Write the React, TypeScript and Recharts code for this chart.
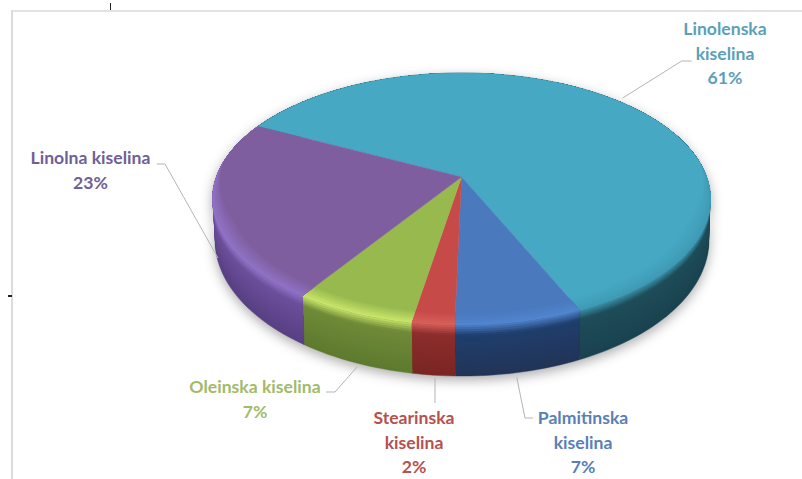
import React from "react";
import { PieChart, Pie } from "recharts";

const categories = ["Linolenska kiselina", "Palmitinska kiselina", "Stearinska kiselina", "Oleinska kiselina", "Linolna kiselina"];
const values = [61, 7, 2.35, 6.65, 23];
const percentLabels = ["61%", "7%", "2%", "7%", "23%"];
const rows = categories.map((name, i) => ({ name, value: values[i] }));

const faceColors = ["#46a8c3", "#4a79bd", "#c64b48", "#97b94e", "#7f5e9f"];
const glowColors = ["#3f9ab4", "#5186d0", "#d8625c", "#cde86c", "#9174c9"];
const wallColors = ["#1e4c58", "#1f3e6c", "#8c2d2b", "#6f8a38", "#6c4f9b"];
const wallDarkColors = ["#1a4350", "#223558", "#7a2624", "#5e7a2e", "#584083"];
const textColors = ["#5c9fb9", "#5a7fb6", "#b4514f", "#a1bb6a", "#6f6097"];

const nameLines = [
  ["Linolenska", "kiselina"],
  ["Palmitinska", "kiselina"],
  ["Stearinska", "kiselina"],
  ["Oleinska kiselina"],
  ["Linolna kiselina"],
];
const labelAnchors = [
  { x: 725, y: 29 },
  { x: 583, y: 418 },
  { x: 414, y: 418 },
  { x: 255, y: 387 },
  { x: 90.5, y: 158 },
];
const leaders = [
  "622.7,98 681.7,61 691.7,61",
  "516.7,377 525,418 533,418",
  "435,378 435,403",
  "357,367 335,392 326,392",
  "156.7,164 165,164 218,258",
];

const WIDTH = 802;
const HEIGHT = 479;
const PERSPECTIVE = 0.1746;
const Y_RATIO = 0.4984;
const RAD = Math.PI / 180;

type Pt = [number, number];

const hex = (c: string) => [1, 3, 5].map((i) => parseInt(c.slice(i, i + 2), 16));
const mix = (a: string, b: string, t: number) => {
  const A = hex(a);
  const B = hex(b);
  return `rgb(${A.map((v, i) => Math.round(v + (B[i] - v) * t)).join(",")})`;
};

const rel = (R: number, deg: number, r = 1): Pt => {
  const u = r * Math.cos(deg * RAD);
  const v = -r * Math.sin(deg * RAD);
  const d = 1 - PERSPECTIVE * v;
  return [(R * u) / d, (R * Y_RATIO * v) / d];
};

const arcAngles = (start: number, end: number) => {
  const n = Math.max(2, Math.ceil(Math.abs(end - start) / 1.5));
  return Array.from({ length: n + 1 }, (_, i) => start + ((end - start) * i) / n);
};

const toBase = (R: number, p: Pt): Pt => {
  const s = R / 245.2;
  const offY = 22 * s;
  return [p[0] * (247 / 249) + 0.5 * s, 63 * s + (p[1] - offY) * (136 / 126)];
};

const pathOf = (cx: number, cy: number, pts: Pt[]) =>
  "M" + pts.map((p) => `${(cx + p[0]).toFixed(2)},${(cy + p[1]).toFixed(2)}`).join("L") + "Z";

const WallShape = (props: any) => {
  const { cx, cy, outerRadius: R, startAngle, endAngle, name } = props;
  const idx = categories.indexOf(name);
  const angles = arcAngles(startAngle, endAngle);
  const rim = angles.map((a) => rel(R, a));
  const base = rim.map((p) => toBase(R, p));
  const layers = Array.from({ length: 24 }, (_, i) => 1 - i / 24);
  const band = (f: number) => {
    const lower = rim.map((p, i): Pt => [p[0] + (base[i][0] - p[0]) * f, p[1] + (base[i][1] - p[1]) * f]);
    return pathOf(cx, cy, [...rim, ...lower.reverse()]);
  };
  const shade = (f: number) => {
    if (f < 0.22) return mix(glowColors[idx], wallColors[idx], Math.min(1, f / 0.22));
    return mix(wallColors[idx], wallDarkColors[idx], (f - 0.22) / 0.78);
  };
  return (
    <g>
      {layers.map((f) => (
        <path key={f} d={band(f)} fill={shade(f)} stroke={f === 1 ? shade(1) : "none"} strokeWidth={0.4} />
      ))}
    </g>
  );
};

const TopShape = (props: any) => {
  const { cx, cy, outerRadius: R, startAngle, endAngle, name } = props;
  const idx = categories.indexOf(name);
  const angles = arcAngles(startAngle, endAngle);
  const rim = angles.map((a) => rel(R, a));
  const face = pathOf(cx, cy, [[0, 0], ...rim]);
  const steps = [0, 0.15, 0.3, 0.45, 0.6, 0.72, 0.84, 0.93];
  const taper = (a: number) => {
    const v = -Math.sin(a * RAD);
    return Math.max(0, Math.min(1, (v + 0.12) / 0.5));
  };
  const strip = (t: number) => {
    const inner = angles.map((a) => rel(R, a, 1 - 0.075 * (1 - t) * taper(a)));
    return pathOf(cx, cy, [...rim, ...inner.reverse()]);
  };
  return (
    <g>
      <path d={face} fill={faceColors[idx]} stroke={faceColors[idx]} strokeWidth={0.5} />
      {steps.map((t) => (
        <path key={t} d={strip(t)} fill={mix(faceColors[idx], glowColors[idx], t)} />
      ))}
    </g>
  );
};

const renderLabel = (props: any) => {
  const idx = categories.indexOf(props.name);
  const a = labelAnchors[idx];
  const lines = [...nameLines[idx], percentLabels[idx]];
  return (
    <g key={props.name}>
      <polyline points={leaders[idx]} fill="none" stroke="#b5b5b5" strokeWidth={1} />
      <text textAnchor="middle" fontFamily="Lato, sans-serif" fontWeight={700} fontSize={17.6} fill={textColors[idx]}>
        {lines.map((line, i) => (
          <tspan key={line} x={a.x} y={a.y + 6 + i * 24.7}>
            {line}
          </tspan>
        ))}
      </text>
    </g>
  );
};

const START = 90 - 296.5;

export default function App() {
  return (
    <div style={{ position: "absolute", left: 0, top: 0, width: WIDTH, height: HEIGHT, background: "#fff", overflow: "hidden" }}>
      <style>{`.pie-walls { filter: drop-shadow(0 4px 6px rgba(0,0,0,0.32)); }`}</style>
      <div style={{ position: "absolute", left: 11, top: 10, width: 791, height: 1.5, background: "#e2e2e2" }} />
      <div style={{ position: "absolute", left: 11, top: 10, width: 1.5, height: 469, background: "#dcdcdc" }} />
      <div style={{ position: "absolute", left: 109.5, top: 3, width: 1.5, height: 7, background: "#222" }} />
      <div style={{ position: "absolute", left: 8, top: 295, width: 4, height: 1.5, background: "#222" }} />
      <div style={{ position: "absolute", left: 0, top: 0 }}>
        <PieChart width={WIDTH} height={HEIGHT} margin={{ top: 0, right: 0, bottom: 0, left: 0 }}>
          <Pie
            className="pie-walls"
            data={rows}
            dataKey="value"
            nameKey="name"
            cx={461.5}
            cy={177}
            innerRadius={0}
            outerRadius={245.2}
            startAngle={START}
            endAngle={START - 360}
            shape={WallShape}
            label={false}
            labelLine={false}
            legendType="none"
            isAnimationActive={false}
          />
          <Pie
            data={rows}
            dataKey="value"
            nameKey="name"
            cx={461.5}
            cy={177}
            innerRadius={0}
            outerRadius={245.2}
            startAngle={START}
            endAngle={START - 360}
            shape={TopShape}
            label={renderLabel}
            labelLine={false}
            legendType="none"
            isAnimationActive={false}
          />
        </PieChart>
      </div>
    </div>
  );
}
